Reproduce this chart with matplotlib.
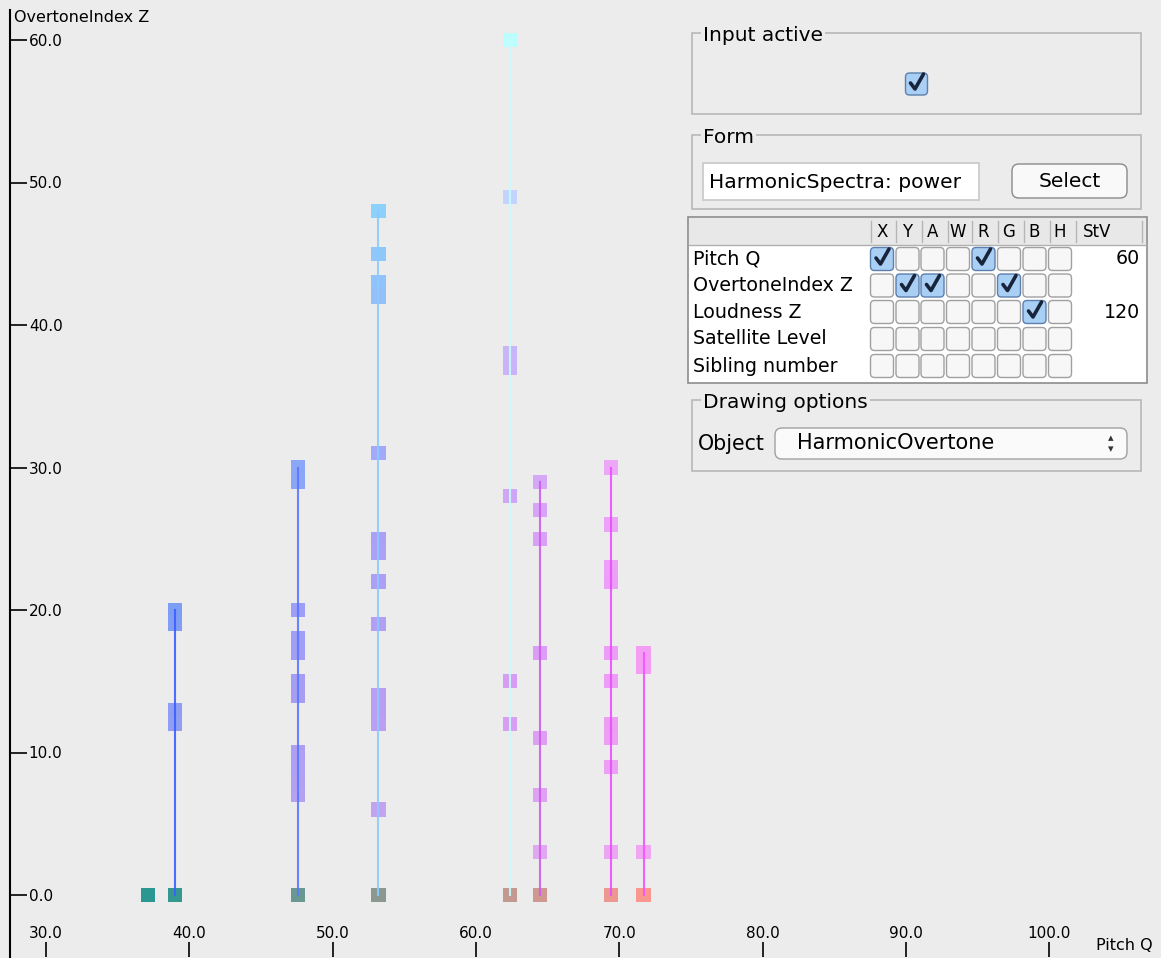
import matplotlib.pyplot as plt
from matplotlib.patches import Rectangle, FancyBboxPatch

W, H = 1161, 958
BG = '#ececec'

# pitch (Q) of each harmonic spectrum and the overtone indices drawn above it
pitches = [37.1, 39.0, 47.6, 53.2, 62.4, 64.5, 69.4, 71.7]
overtones = [
    [],
    [12, 13, 19, 20],
    [7, 8, 9, 10, 14, 15, 17, 18, 20, 29, 30],
    [6, 12, 13, 14, 19, 22, 24, 25, 31, 42, 43, 45, 48],
    [12, 15, 28, 37, 38, 49, 60],
    [3, 7, 11, 17, 25, 27, 29],
    [3, 9, 11, 12, 15, 17, 22, 23, 26, 30],
    [3, 16, 17],
]
line_colors = [None, '#3d5eff', '#5a78ff', '#8ccaff', '#c8fbff',
               '#cc5cf0', '#ea4cff', '#f452ff']

x_ticks = [30, 40, 50, 60, 70, 80, 90, 100]
y_ticks = [0, 10, 20, 30, 40, 50, 60]

# table of the control panel
row_names = ['Pitch Q', 'OvertoneIndex Z', 'Loudness Z', 'Satellite Level', 'Sibling number']
col_names = ['X', 'Y', 'A', 'W', 'R', 'G', 'B', 'H']
checked = {('Pitch Q', 'X'), ('Pitch Q', 'R'),
           ('OvertoneIndex Z', 'Y'), ('OvertoneIndex Z', 'A'), ('OvertoneIndex Z', 'G'),
           ('Loudness Z', 'B')}
stv = {'Pitch Q': '60', 'Loudness Z': '120'}


def overtone_rgba(pitch, idx):
    # R follows pitch, G and alpha follow overtone index
    r = min(max((pitch - 36) / 36, 0), 1)
    return (r, idx / 60, 1.0, min(1.0, 0.28 + idx * 0.0117))


def fundamental_rgba(pitch):
    r = min(max((pitch - 36) / 36, 0), 1)
    return (r, 0.54, 0.5, 0.85)


fig = plt.figure(figsize=(W / 100, H / 100), dpi=100, facecolor=BG)
ax = fig.add_axes([10 / W, 1 / H, (W - 10) / W, (H - 11) / H])
ax.set_facecolor(BG)

# pixel scale of the plot
px_x, x30_px = 14.33, 46
px_y, y0_px = 14.25, 895
ax.set_xlim(30 - (x30_px - 10) / px_x, 30 + (W - x30_px) / px_x)
ax.set_ylim(-(957 - y0_px) / px_y, (y0_px - 10) / px_y)

for p, idx, lc in zip(pitches, overtones, line_colors):
    ax.scatter([p], [0], marker='s', s=104, c=[fundamental_rgba(p)],
               edgecolors='none', zorder=2)
    if idx:
        ax.scatter([p] * len(idx), idx, marker='s', s=104,
                   c=[overtone_rgba(p, i) for i in idx],
                   edgecolors='none', zorder=2)
        ax.plot([p, p], [0, max(idx)], color=lc, lw=1.5, alpha=0.9, zorder=3)

for s in ['top', 'right', 'bottom']:
    ax.spines[s].set_visible(False)
ax.spines['left'].set_linewidth(1.5)

ax.set_xticks(x_ticks)
ax.set_xticklabels([f'{v:.1f}' for v in x_ticks], va='bottom')
ax.set_yticks(y_ticks)
ax.set_yticklabels([f'{v:.1f}' for v in y_ticks], ha='left')
ax.tick_params(axis='x', direction='in', length=10.5, width=1.2, pad=-11.5, labelsize=11)
ax.tick_params(axis='y', direction='in', length=12.5, width=1.2, pad=-13.5, labelsize=11)

fig.text(14 / W, 1 - 18 / H, 'OvertoneIndex Z', fontsize=11.5, va='center', ha='left')
fig.text(1096 / W, 1 - 945 / H, 'Pitch Q', fontsize=11.5, va='center', ha='left')

# control panel drawn in pixel coordinates
pn = fig.add_axes([0, 0, 1, 1])
pn.set_xlim(0, W)
pn.set_ylim(H, 0)
pn.axis('off')
pn.patch.set_alpha(0)


def group_box(x0, y0, x1, y1, title):
    pn.add_patch(Rectangle((x0, y0), x1 - x0, y1 - y0, fc='none', ec='#b8b8b8', lw=1.2))
    pn.text(x0 + 11, y0 + 2, title, fontsize=14.5, va='center', ha='left',
            bbox=dict(fc=BG, ec='none', pad=1.5))


def checkbox(cx, cy, on, size=22):
    fc = '#a9cff5' if on else '#f7f7f7'
    ec = '#5b7fae' if on else '#a0a0a0'
    pn.add_patch(FancyBboxPatch((cx - size / 2, cy - size / 2), size, size,
                                boxstyle='round,pad=0,rounding_size=4',
                                fc=fc, ec=ec, lw=1.0))
    if on:
        pn.plot([cx - 6, cx - 1.5, cx + 7], [cy - 1, cy + 5, cy - 10],
                color='#18243a', lw=2.6, solid_capstyle='round', solid_joinstyle='round')


group_box(692, 33, 1141, 114, 'Input active')
checkbox(916.5, 84, True, size=22)

group_box(692, 135, 1141, 209, 'Form')
pn.add_patch(Rectangle((703, 163), 276, 37, fc='white', ec='#c8c8c8', lw=1.2))
pn.text(709, 182, 'HarmonicSpectra: power', fontsize=14.6, va='center', ha='left')
pn.add_patch(FancyBboxPatch((1012, 164), 115, 34, boxstyle='round,pad=0,rounding_size=7',
                            fc='#f9f9f9', ec='#8a8a8a', lw=1.0))
pn.text(1069.5, 181, 'Select', fontsize=14.5, va='center', ha='center')

# table
pn.add_patch(Rectangle((688, 217), 459, 166, fc='white', ec='#8c8c8c', lw=1.2))
pn.add_patch(Rectangle((689, 218), 457, 27, fc='#e8e8e8', ec='none'))
pn.plot([689, 1146], [245, 245], color='#b0b0b0', lw=1)
col_x = [882, 907.5, 932.5, 958, 983.5, 1009, 1034.5, 1060]
for x in [871, 896, 922, 948, 972, 998, 1024, 1050, 1076, 1142]:
    pn.plot([x, x], [221, 242], color='#b5b5b5', lw=1)
for name, x in zip(col_names, col_x):
    pn.text(x, 232, name, fontsize=12, va='center', ha='center')
pn.text(1097, 232, 'StV', fontsize=12, va='center', ha='center')

row_y = [259, 285.5, 312, 339, 366]
for name, y in zip(row_names, row_y):
    pn.text(693, y, name, fontsize=13.7, va='center', ha='left')
    for c, x in zip(col_names, col_x):
        checkbox(x, y, (name, c) in checked, size=23)
    if name in stv:
        pn.text(1140, y, stv[name], fontsize=13.7, va='center', ha='right')

group_box(692, 400, 1141, 471, 'Drawing options')
pn.text(698, 444, 'Object', fontsize=14.8, va='center', ha='left')
pn.add_patch(FancyBboxPatch((775, 428), 352, 31, boxstyle='round,pad=0,rounding_size=7',
                            fc='#fafafa', ec='#a0a0a0', lw=1.0))
pn.text(797, 443, 'HarmonicOvertone', fontsize=15, va='center', ha='left')
pn.text(1111, 438, '▴', fontsize=8, va='center', ha='center', color='#333333')
pn.text(1111, 449, '▾', fontsize=8, va='center', ha='center', color='#333333')

fig.savefig('out.png', dpi=100, facecolor=BG)
